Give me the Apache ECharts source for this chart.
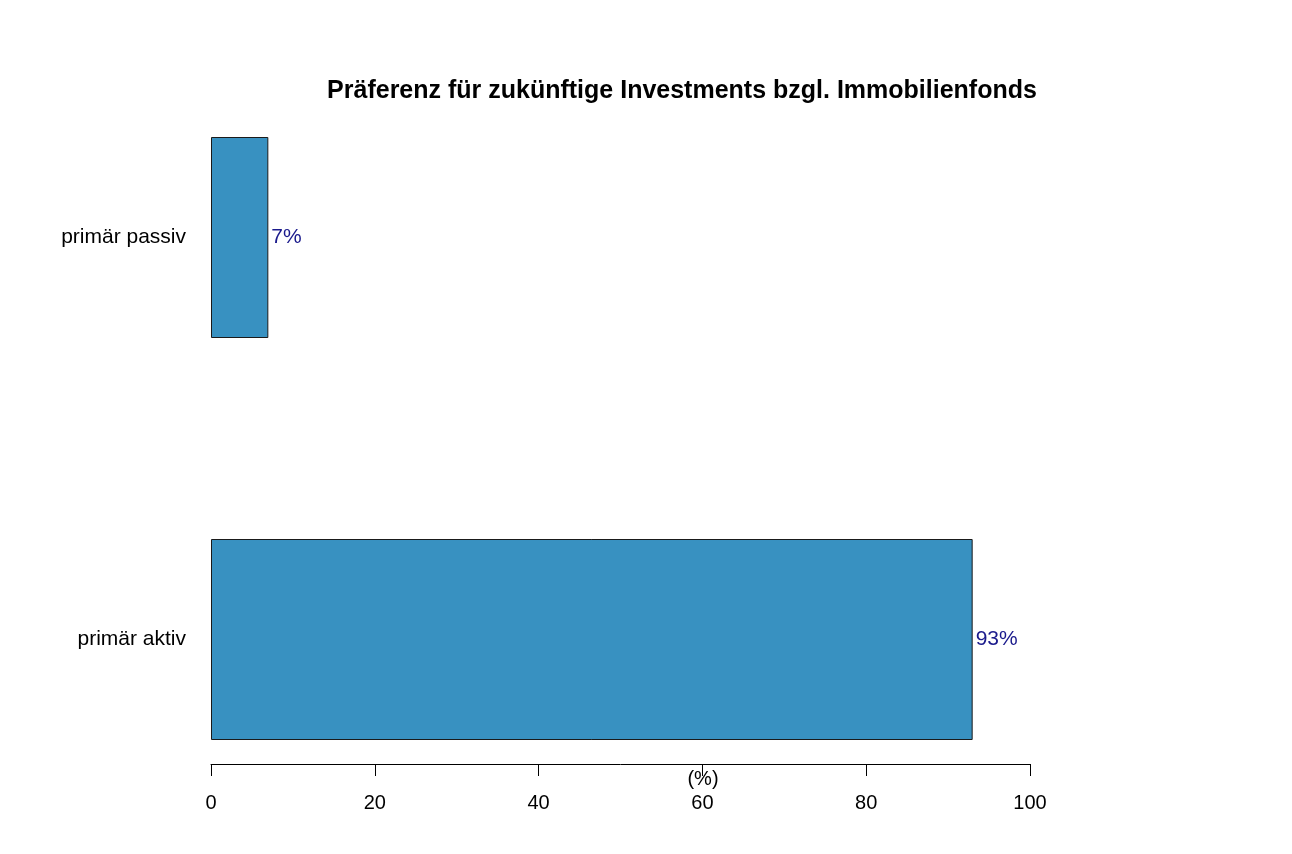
<!DOCTYPE html>
<html>
<head>
<meta charset="utf-8">
<script src="https://cdn.jsdelivr.net/npm/echarts@6/dist/echarts.min.js"></script>
<style>
  html, body { margin: 0; padding: 0; background: #ffffff; }
  #chart { width: 1292px; height: 854px; }
</style>
</head>
<body>
<div id="chart"></div>
<script>
const categories = ['primär aktiv', 'primär passiv']
const values = [93, 7]
const xTicks = [0, 20, 40, 60, 80, 100]

const chart = echarts.init(document.getElementById('chart'))

const option = {
  backgroundColor: '#ffffff',
  textStyle: { fontFamily: 'Liberation Sans, Arial, sans-serif' },
  title: {
    text: 'Präferenz für zukünftige Investments bzgl. Immobilienfonds',
    left: 677,
    textAlign: 'center',
    top: 74,
    textStyle: {
      fontSize: 25,
      fontWeight: 'bold',
      color: '#000000',
      fontFamily: 'Liberation Sans, Arial, sans-serif'
    }
  },
  grid: {
    left: 211,
    right: 262,
    top: 237.5,
    bottom: 214.5,
    containLabel: false
  },
  xAxis: {
    type: 'value',
    min: xTicks[0],
    max: xTicks[xTicks.length - 1],
    interval: 20,
    offset: 124.5,
    axisLine: { show: true, lineStyle: { color: '#000000', width: 1 } },
    axisTick: { show: true, length: 12, lineStyle: { color: '#000000' } },
    axisLabel: {
      margin: 29,
      fontSize: 20,
      color: '#000000',
      verticalAlign: 'top'
    },
    splitLine: { show: false }
  },
  yAxis: {
    type: 'category',
    data: categories,
    boundaryGap: false,
    axisLine: { show: false },
    axisTick: { show: false },
    axisLabel: {
      margin: 25,
      fontSize: 21,
      color: '#000000'
    }
  },
  graphic: [
    {
      type: 'text',
      x: 703,
      y: 779,
      style: {
        text: '(%)',
        fontSize: 20,
        fill: '#000000',
        align: 'center',
        verticalAlign: 'middle',
        fontFamily: 'Liberation Sans, Arial, sans-serif'
      }
    }
  ],
  series: [
    {
      type: 'bar',
      data: values,
      barWidth: 201,
      itemStyle: {
        color: '#3891c1',
        borderColor: '#1a1a1a',
        borderWidth: 1
      },
      label: {
        show: true,
        position: 'right',
        distance: 3,
        formatter: '{c}%',
        fontSize: 21,
        color: '#1a1a8c'
      }
    }
  ]
}

chart.setOption(option)
</script>
</body>
</html>
